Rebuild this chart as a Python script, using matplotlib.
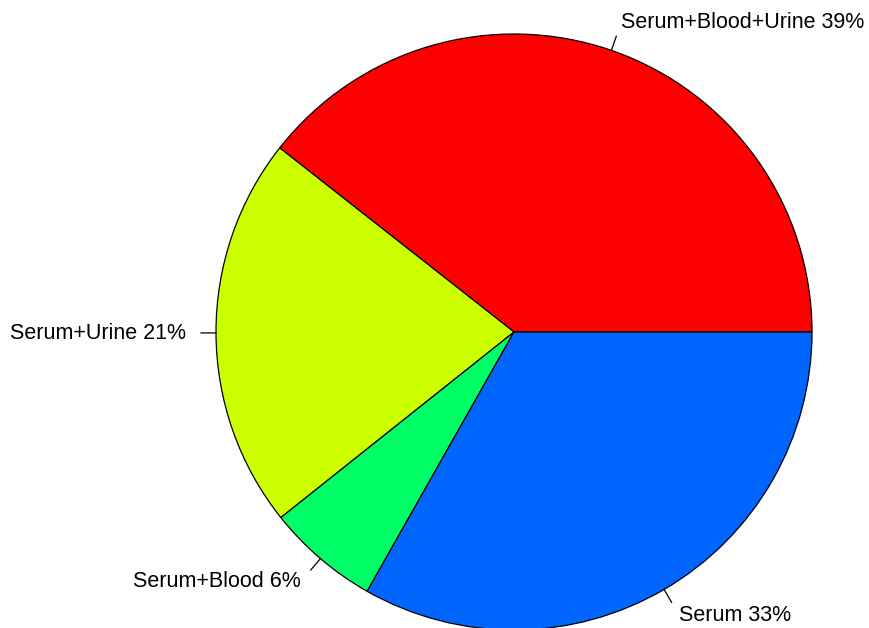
import numpy as np
import matplotlib
matplotlib.use("Agg")
import matplotlib.pyplot as plt

labels = ["Serum+Blood+Urine 39%", "Serum+Urine 21%", "Serum+Blood 6%", "Serum 33%"]
values = [0.394, 0.213, 0.061, 0.332]
colors = ["#FF0000", "#CCFF00", "#00FF66", "#0066FF"]

W, H = 869, 628
fig = plt.figure(figsize=(W / 100, H / 100), dpi=100)
ax = fig.add_axes([0, 0, 1, 1])

cx, cy, r = 514, H - 332, 298
ax.pie(values, colors=colors, startangle=0, counterclock=True, radius=r,
       center=(cx, cy), frame=True,
       wedgeprops=dict(edgecolor="black", linewidth=0.9))
ax.set_xlim(0, W)
ax.set_ylim(0, H)
ax.set_aspect("equal")
ax.axis("off")

cum = np.cumsum([0] + values)
tot = sum(values)
for i, lab in enumerate(labels):
    mid = (cum[i] + cum[i + 1]) / 2 / tot * 2 * np.pi
    c, s = np.cos(mid), np.sin(mid)
    ax.plot([cx + r * c, cx + 1.05 * r * c], [cy + r * s, cy + 1.05 * r * s],
            color="black", lw=0.9)
    ax.text(cx + 1.1 * r * c, cy + 1.1 * r * s, lab, ha="left" if c > 0 else "right",
            va="center", fontsize=15.5, family=["Liberation Sans", "DejaVu Sans"])

fig.savefig("out.png", dpi=100)
